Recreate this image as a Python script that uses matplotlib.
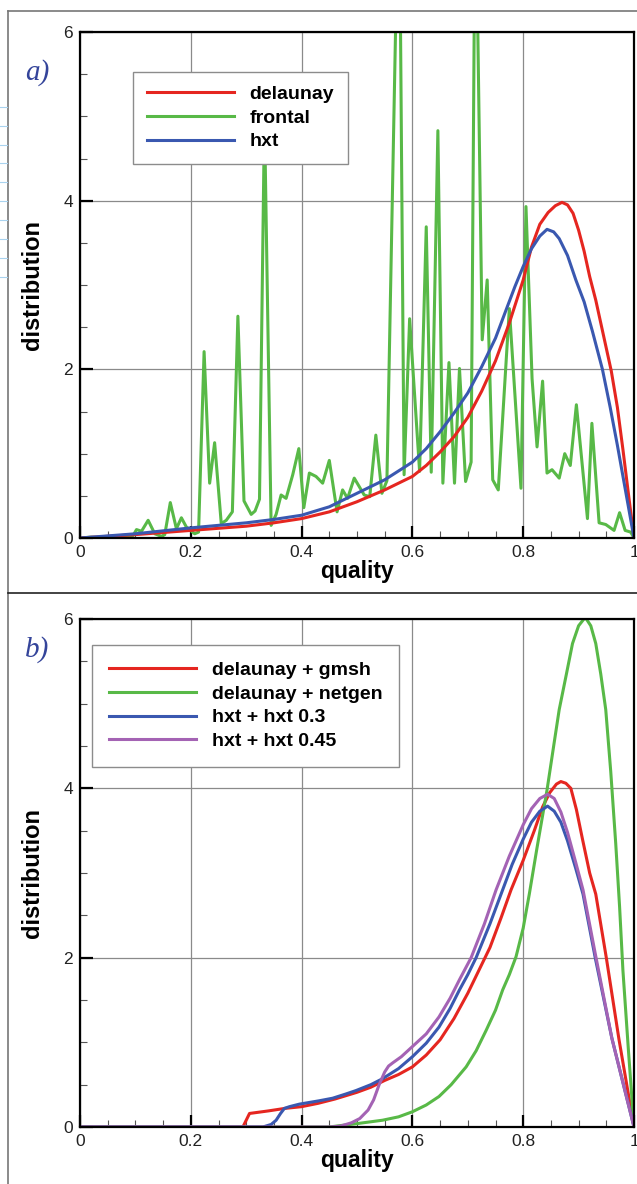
"""
Two stacked quality-distribution panels (a: per mesher, b: mesher + optimiser).
"""
import matplotlib.pyplot as plt
from matplotlib.lines import Line2D
from matplotlib.ticker import MultipleLocator

# ---------------- panel a) ----------------
A_LABELS = ["delaunay", "frontal", "hxt"]

A_DELAUNAY_Q = [0.0, 0.05, 0.1, 0.15, 0.2, 0.25, 0.3, 0.35, 0.4, 0.45, 0.5, 0.55, 0.6,
                0.625, 0.65, 0.675, 0.7, 0.725, 0.75, 0.775, 0.8, 0.815, 0.83, 0.845,
                0.858, 0.87, 0.88, 0.89, 0.9, 0.91, 0.92, 0.931, 0.945, 0.959, 0.97,
                0.98, 0.99, 1.0]
A_DELAUNAY_D = [0.0, 0.02, 0.04, 0.065, 0.09, 0.115, 0.14, 0.18, 0.23, 0.31, 0.43, 0.57, 0.73,
                0.86, 1.02, 1.2, 1.43, 1.74, 2.1, 2.55, 3.06, 3.45, 3.72, 3.86,
                3.94, 3.98, 3.95, 3.85, 3.65, 3.4, 3.1, 2.82, 2.4, 1.98, 1.55,
                1.05, 0.52, 0.0]

A_HXT_Q = [0.0, 0.05, 0.1, 0.15, 0.2, 0.25, 0.3, 0.35, 0.4, 0.45, 0.5, 0.55, 0.6, 0.625,
           0.65, 0.675, 0.7, 0.725, 0.75, 0.77, 0.785, 0.8, 0.815, 0.83, 0.843, 0.855,
           0.865, 0.88, 0.895, 0.91, 0.925, 0.943, 0.957, 0.97, 0.985, 1.0]
A_HXT_D = [0.0, 0.025, 0.05, 0.085, 0.12, 0.15, 0.18, 0.22, 0.27, 0.37, 0.53, 0.69, 0.9, 1.06,
           1.26, 1.48, 1.72, 2.03, 2.37, 2.72, 2.98, 3.22, 3.43, 3.58, 3.66, 3.63,
           3.55, 3.35, 3.06, 2.8, 2.45, 2.0, 1.55, 1.1, 0.55, 0.0]

A_FRONTAL_Q = [0.0, 0.02, 0.04, 0.06, 0.08, 0.096, 0.102, 0.111, 0.123, 0.135, 0.147, 0.153,
               0.163, 0.174, 0.183, 0.192, 0.207, 0.214, 0.224, 0.234, 0.243, 0.255, 0.264,
               0.275, 0.285, 0.296, 0.309, 0.316, 0.324, 0.333, 0.345, 0.354, 0.363, 0.372,
               0.384, 0.395, 0.404, 0.414, 0.426, 0.438, 0.450, 0.464, 0.474, 0.483, 0.495,
               0.513, 0.523, 0.534, 0.545, 0.554, 0.571, 0.578, 0.585, 0.595, 0.613, 0.625,
               0.634, 0.646, 0.655, 0.666, 0.676, 0.685, 0.696, 0.706, 0.712, 0.717, 0.726,
               0.735, 0.745, 0.755, 0.775, 0.796, 0.805, 0.816, 0.825, 0.835, 0.843, 0.852,
               0.865, 0.875, 0.885, 0.896, 0.916, 0.924, 0.937, 0.949, 0.964, 0.974, 0.984,
               0.994, 1.0]
A_FRONTAL_D = [0.0, 0.01, 0.0, 0.02, 0.01, 0.03, 0.10, 0.08, 0.21, 0.05, 0.02, 0.04,
               0.42, 0.11, 0.24, 0.13, 0.05, 0.07, 2.21, 0.65, 1.13, 0.17, 0.21,
               0.31, 2.63, 0.44, 0.28, 0.32, 0.46, 5.0, 0.15, 0.28, 0.51, 0.47,
               0.75, 1.06, 0.36, 0.77, 0.73, 0.65, 0.92, 0.31, 0.57, 0.47, 0.71,
               0.51, 0.49, 1.22, 0.53, 0.68, 6.5, 6.5, 0.75, 2.60, 0.79, 3.69,
               0.78, 4.83, 0.65, 2.08, 0.65, 2.01, 0.67, 0.90, 6.5, 6.5, 2.35,
               3.06, 0.69, 0.57, 2.72, 0.59, 3.93, 1.89, 1.08, 1.86, 0.77, 0.81,
               0.71, 1.00, 0.86, 1.58, 0.23, 1.36, 0.18, 0.16, 0.09, 0.30, 0.09,
               0.07, 0.0]

# ---------------- panel b) ----------------
B_LABELS = ["delaunay + gmsh", "delaunay + netgen", "hxt + hxt 0.3", "hxt + hxt 0.45"]

B_GMSH_Q = [0.0, 0.294, 0.306, 0.34, 0.37, 0.4, 0.43, 0.46, 0.5, 0.525, 0.55, 0.575, 0.6,
            0.625, 0.65, 0.675, 0.7, 0.72, 0.74, 0.76, 0.778, 0.8, 0.82, 0.835, 0.848,
            0.86, 0.868, 0.877, 0.886, 0.896, 0.907, 0.92, 0.931, 0.95, 0.973, 1.0]
B_GMSH_D = [0.0, 0.0, 0.16, 0.19, 0.22, 0.24, 0.28, 0.33, 0.41, 0.47, 0.55, 0.62, 0.71,
            0.85, 1.03, 1.28, 1.58, 1.85, 2.12, 2.47, 2.8, 3.15, 3.5, 3.78, 3.95,
            4.05, 4.08, 4.06, 4.0, 3.75, 3.4, 3.0, 2.75, 2.0, 1.03, 0.0]

B_NETGEN_Q = [0.0, 0.45, 0.474, 0.5, 0.546, 0.575, 0.6, 0.625, 0.648, 0.67, 0.697, 0.715,
              0.733, 0.75, 0.763, 0.775, 0.787, 0.8, 0.811, 0.825, 0.843, 0.855, 0.865,
              0.878, 0.889, 0.9, 0.912, 0.922, 0.931, 0.94, 0.949, 0.958, 0.967, 0.974,
              0.98, 0.99, 1.0]
B_NETGEN_D = [0.0, 0.0, 0.02, 0.04, 0.08, 0.12, 0.18, 0.26, 0.36, 0.5, 0.71, 0.9,
              1.14, 1.38, 1.62, 1.8, 2.01, 2.35, 2.75, 3.3, 3.98, 4.5, 4.93,
              5.35, 5.71, 5.92, 6.02, 5.92, 5.71, 5.35, 4.93, 4.2, 3.35, 2.6,
              1.85, 0.9, 0.0]

B_HXT03_Q = [0.0, 0.33, 0.345, 0.354, 0.362, 0.369, 0.378, 0.396, 0.432, 0.456, 0.48, 0.498,
             0.525, 0.546, 0.575, 0.6, 0.625, 0.648, 0.668, 0.685, 0.7, 0.715, 0.74, 0.76,
             0.78, 0.8, 0.815, 0.83, 0.844, 0.856, 0.868, 0.88, 0.895, 0.908, 0.93, 0.96, 1.0]
B_HXT03_D = [0.0, 0.0, 0.03, 0.08, 0.16, 0.22, 0.24, 0.27, 0.31, 0.34, 0.39, 0.43,
             0.5, 0.57, 0.69, 0.83, 0.99, 1.18, 1.4, 1.62, 1.8, 2.0, 2.4, 2.75,
             3.1, 3.4, 3.6, 3.73, 3.79, 3.73, 3.6, 3.38, 3.05, 2.75, 2.0, 1.05, 0.0]

B_HXT045_Q = [0.0, 0.45, 0.47, 0.49, 0.505, 0.52, 0.53, 0.54, 0.55, 0.557, 0.565, 0.58, 0.6,
              0.625, 0.648, 0.668, 0.685, 0.706, 0.73, 0.751, 0.775, 0.8, 0.815, 0.83,
              0.844, 0.856, 0.868, 0.88, 0.895, 0.908, 0.93, 0.96, 1.0]
B_HXT045_D = [0.0, 0.0, 0.01, 0.05, 0.1, 0.2, 0.32, 0.5, 0.65, 0.72, 0.76, 0.83, 0.95,
              1.1, 1.3, 1.52, 1.74, 2.0, 2.4, 2.8, 3.2, 3.57, 3.76, 3.88,
              3.93, 3.88, 3.72, 3.48, 3.12, 2.8, 2.05, 1.05, 0.0]

RED, GREEN, BLUE, PURPLE = "#e52620", "#58b947", "#3a58b0", "#a463b4"
W, H, DPI = 637, 1184, 100

plt.rcParams["font.family"] = ["Liberation Sans", "DejaVu Sans"]


def px_axes(fig, left, top, right, bottom):
    return fig.add_axes([left / W, 1 - bottom / H, (right - left) / W, (bottom - top) / H])


def style_axes(ax):
    ax.set_xlim(0, 1)
    ax.set_ylim(0, 6)
    ax.xaxis.set_major_locator(MultipleLocator(0.2))
    ax.xaxis.set_minor_locator(MultipleLocator(0.05))
    ax.yaxis.set_major_locator(MultipleLocator(2))
    ax.yaxis.set_minor_locator(MultipleLocator(0.5))
    ax.xaxis.set_major_formatter(plt.FuncFormatter(lambda v, _: f"{v:g}"))
    ax.tick_params(which="major", direction="in", length=9, width=1.6, color="black",
                   labelsize=12.5, labelcolor="#222222", pad=5)
    ax.tick_params(which="minor", direction="in", length=5, width=0.8, color="#555555")
    for s in ax.spines.values():
        s.set_linewidth(1.6)
    ax.grid(True, which="major", color="#8a8a8a", lw=0.9)
    ax.set_axisbelow(True)
    ax.set_xlabel("quality", fontsize=16.5, fontweight="bold", labelpad=0)
    ax.set_ylabel("distribution", fontsize=17, fontweight="bold", labelpad=14)


def add_legend(ax, x, y, pad):
    leg = ax.legend(loc="upper left", bbox_to_anchor=(x, y), borderaxespad=0,
                    prop={"size": 14, "weight": "bold"}, handlelength=4.5,
                    handletextpad=0.8, labelspacing=0.31, borderpad=pad,
                    fancybox=False, framealpha=1, edgecolor="#8c8c8c")
    leg.get_frame().set_linewidth(1.0)
    leg.set_zorder(10)


def main():
    fig = plt.figure(figsize=(W / DPI, H / DPI), dpi=DPI)

    # page decoration: frame lines around the panels
    fig.add_artist(Line2D([8 / W, 8 / W], [0, 1 - 11 / H], transform=fig.transFigure,
                          color="#777777", lw=1.2))
    fig.add_artist(Line2D([8 / W, 1], [1 - 11 / H, 1 - 11 / H], transform=fig.transFigure,
                          color="#777777", lw=1.2))
    fig.add_artist(Line2D([8 / W, 1], [1 - 593 / H, 1 - 593 / H], transform=fig.transFigure,
                          color="#222222", lw=1.2))
    for yp in [107, 126, 145, 163, 182, 201, 220, 239, 258, 277]:
        fig.add_artist(Line2D([0, 7 / W], [1 - yp / H] * 2, transform=fig.transFigure,
                              color="#a9d3ef", lw=0.8))

    lw = 2.2
    ax1 = px_axes(fig, 80, 32, 634, 538)
    ax1.plot(A_DELAUNAY_Q, A_DELAUNAY_D, color=RED, lw=lw, label=A_LABELS[0])
    ax1.plot(A_FRONTAL_Q, A_FRONTAL_D, color=GREEN, lw=lw, label=A_LABELS[1], zorder=1.9)
    ax1.plot(A_HXT_Q, A_HXT_D, color=BLUE, lw=lw, label=A_LABELS[2])
    style_axes(ax1)
    add_legend(ax1, (133 - 80) / 554, 1 - (72 - 32) / 506, 0.7)

    ax2 = px_axes(fig, 80, 619, 634, 1127)
    ax2.plot(B_GMSH_Q, B_GMSH_D, color=RED, lw=lw, label=B_LABELS[0])
    ax2.plot(B_NETGEN_Q, B_NETGEN_D, color=GREEN, lw=lw, label=B_LABELS[1])
    ax2.plot(B_HXT03_Q, B_HXT03_D, color=BLUE, lw=lw, label=B_LABELS[2])
    ax2.plot(B_HXT045_Q, B_HXT045_D, color=PURPLE, lw=lw, label=B_LABELS[3])
    style_axes(ax2)
    add_legend(ax2, (92 - 80) / 554, 1 - (645 - 619) / 508, 0.85)

    for label, yp in [("a)", 73), ("b)", 650)]:
        fig.text(37 / W, 1 - yp / H, label, fontsize=21, style="italic",
                 family=["Liberation Serif", "DejaVu Serif"], color="#34449a",
                 ha="center", va="center")

    fig.savefig("out.png", dpi=DPI)


if __name__ == "__main__":
    main()
